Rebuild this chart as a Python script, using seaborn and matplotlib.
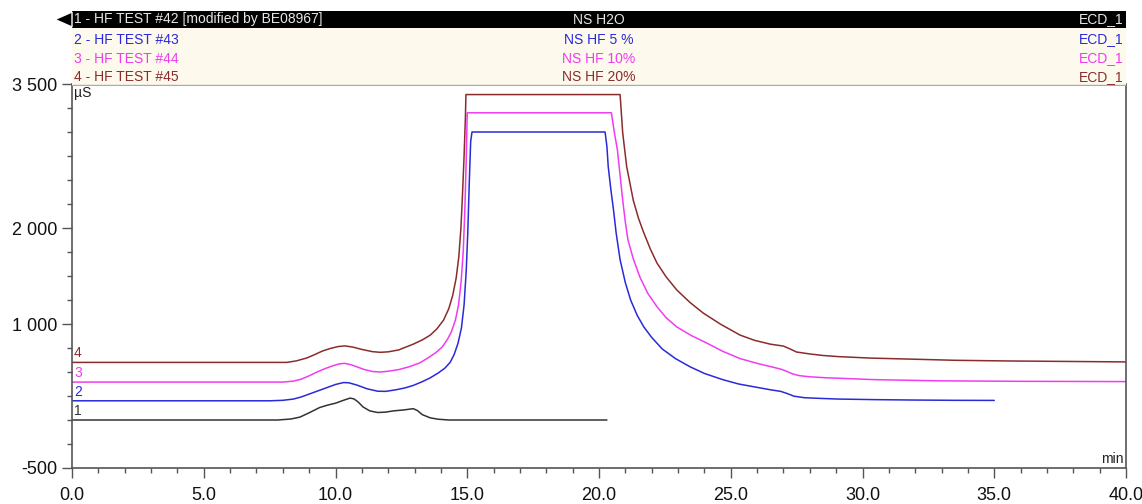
import pandas as pd
import seaborn as sns
import matplotlib.pyplot as plt
from matplotlib.patches import Rectangle, Polygon
from matplotlib.ticker import MultipleLocator, FixedLocator

# conductivity traces (min, µS)
t1 = [0, 7.8, 8.3, 8.65, 9.0, 9.4, 9.7, 10.0, 10.3, 10.55, 10.7, 10.85, 11.05, 11.3, 11.6,
      11.9, 12.2, 12.6, 12.95, 13.1, 13.3, 13.6, 13.9, 14.3, 20.3]
v1 = [0, 0, 10, 30, 75, 130, 155, 175, 205, 228, 220, 190, 135, 95, 78,
      82, 95, 105, 118, 100, 55, 22, 8, 0, 0]

t2 = [0, 7.5, 8.0, 8.4, 8.7, 9.0, 9.35, 9.7, 10.0, 10.3, 10.5, 10.8, 11.2, 11.6, 11.9,
      12.3, 12.65, 12.95, 13.3, 13.6, 13.9, 14.15, 14.35, 14.5, 14.65, 14.78, 14.88, 14.96,
      15.02, 15.08, 15.13, 15.18, 20.23, 20.3, 20.35, 20.45, 20.55, 20.65, 20.8, 21.0, 21.2,
      21.45, 21.7, 22.0, 22.4, 22.9, 23.45, 24.0, 24.7, 25.3, 26.0, 26.5, 26.9, 27.15, 27.4,
      27.8, 28.4, 29.1, 30.5, 31.9, 33.5, 35.0]
v2 = [200, 200, 205, 218, 240, 270, 305, 340, 370, 390, 388, 365, 325, 300, 298,
      315, 335, 360, 400, 440, 490, 540, 600, 680, 800, 960, 1200, 1550,
      1950, 2500, 2900, 3000, 3000, 2850, 2640, 2400, 2190, 1950, 1670, 1430, 1250,
      1090, 970, 860, 740, 640, 555, 485, 420, 375, 340, 315, 298, 275, 248,
      232, 225, 218, 212, 208, 205, 204]

t3 = [0, 8.0, 8.4, 8.7, 9.0, 9.3, 9.6, 9.9, 10.15, 10.35, 10.6, 10.8, 11.1, 11.4, 11.7,
      12.0, 12.4, 12.8, 13.2, 13.5, 13.8, 14.05, 14.25, 14.4, 14.55, 14.67, 14.77, 14.85,
      14.91, 14.96, 15.0, 20.47, 20.58, 20.7, 20.8, 20.9, 21.0, 21.1, 21.3, 21.55, 21.85,
      22.2, 22.55, 22.95, 23.5, 24.1, 24.7, 25.35, 26.0, 26.6, 26.9, 27.1, 27.35, 27.6,
      28.0, 28.6, 29.1, 30.5, 32.9, 36.0, 40.0]
v3 = [395, 395, 405, 425, 460, 500, 535, 565, 585, 590, 575, 555, 525, 505, 500,
      508, 525, 555, 595, 645, 700, 760, 840, 920, 1040, 1200, 1450, 1770,
      2200, 2700, 3200, 3200, 3000, 2810, 2550, 2290, 2060, 1875, 1680, 1490, 1320,
      1180, 1065, 970, 880, 800, 715, 640, 590, 550, 530, 510, 480, 462,
      450, 440, 435, 420, 408, 403, 400]

t4 = [0, 8.15, 8.5, 8.9, 9.2, 9.5, 9.8, 10.1, 10.35, 10.65, 11.0, 11.4, 11.7, 12.0, 12.4,
      12.95, 13.3, 13.6, 13.85, 14.1, 14.3, 14.45, 14.58, 14.68, 14.76, 14.82, 14.88, 14.93,
      14.95, 20.8, 20.9, 21.05, 21.3, 21.5, 21.7, 21.95, 22.2, 22.55, 22.95, 23.45, 23.95,
      24.6, 25.35, 25.9, 26.5, 26.8, 27.0, 27.25, 27.5, 28.0, 28.5, 29.1, 30.3, 31.7,
      33.5, 35.5, 40.0]
v4 = [600, 600, 615, 645, 680, 718, 745, 765, 772, 760, 735, 712, 705, 710, 730,
      790, 835, 885, 950, 1040, 1160, 1300, 1480, 1700, 2000, 2350, 2750, 3150,
      3390, 3390, 2990, 2640, 2290, 2100, 1950, 1780, 1635, 1490, 1355, 1225, 1115,
      1000, 885, 830, 790, 778, 770, 740, 708, 688, 672, 660, 645, 635,
      622, 615, 605]

trace_ids = ['1', '2', '3', '4']
baselines = [0, 200, 395, 600]
colors = ['#333333', '#2a2ad8', '#f03cf0', '#8b2c2c']
header_left = ['1 - HF TEST #42 [modified by BE08967]', '2 - HF TEST #43',
               '3 - HF TEST #44', '4 - HF TEST #45']
header_mid = ['NS H2O', 'NS HF 5 %', 'NS HF 10%', 'NS HF 20%']
header_right = ['ECD_1', 'ECD_1', 'ECD_1', 'ECD_1']

y_ticks = [-500, 1000, 2000, 3500]
y_labels = ['-500', '1 000', '2 000', '3 500']
x_ticks = [0, 5, 10, 15, 20, 25, 30, 35, 40]
x_labels = ['0.0', '5.0', '10.0', '15.0', '20.0', '25.0', '30.0', '35.0', '40.0']

frames = []
for tid, t, v in zip(trace_ids, [t1, t2, t3, t4], [v1, v2, v3, v4]):
    frames.append(pd.DataFrame({'time': t, 'uS': v, 'trace': tid}))
df = pd.concat(frames, ignore_index=True)

sns.set_style('ticks')
plt.rcParams['font.family'] = ['Liberation Sans', 'DejaVu Sans']

W, H = 1142, 504
fig = plt.figure(figsize=(W / 100, H / 100), dpi=100)
ax = fig.add_axes([72 / W, 1 - 468 / H, (1126 - 72) / W, (468 - 84) / H])

sns.lineplot(data=df, x='time', y='uS', hue='trace', palette=dict(zip(trace_ids, colors)),
             estimator=None, sort=False, legend=False, linewidth=1.1, ax=ax)

ax.set_xlim(0, 40)
ax.set_ylim(-500, 3500)
ax.set_xlabel('')
ax.set_ylabel('')
ax.xaxis.set_major_locator(FixedLocator(x_ticks))
ax.set_xticklabels(x_labels)
ax.xaxis.set_minor_locator(MultipleLocator(1))
ax.yaxis.set_major_locator(FixedLocator(y_ticks))
ax.set_yticklabels(y_labels)
ax.yaxis.set_minor_locator(MultipleLocator(250))
ax.tick_params(which='major', length=7, width=1, color='#555555', labelsize=13,
               labelcolor='#111111')
ax.tick_params(axis='x', which='major', pad=7)
ax.tick_params(which='minor', length=3.5, width=1, color='#555555')
ax.spines['top'].set_visible(False)
for s in ['left', 'bottom', 'right']:
    ax.spines[s].set_color('#555555')
    ax.spines[s].set_linewidth(1.2)
ax.patch.set_facecolor('white')

for tid, base, c in zip(trace_ids, baselines, colors):
    ax.text(0.08, base + 20, tid, color=c, fontsize=10, ha='left', va='bottom')

ax.text(0.08, 3480, 'µS', fontsize=10, color='#222222', ha='left', va='top')
ax.text(39.9, -480, 'min', fontsize=10, color='#222222', ha='right', va='bottom')

# header band with the sample table
hx = fig.add_axes([55 / W, 1 - 86 / H, (1126 - 55) / W, (86 - 11) / H])
hx.set_xlim(55, 1126)
hx.set_ylim(86, 11)
hx.axis('off')
hx.add_patch(Rectangle((72, 28), 1054, 57, facecolor='#fdf9ec', edgecolor='none'))
hx.add_patch(Rectangle((72, 11), 1054, 17, facecolor='black', edgecolor='none'))
hx.add_patch(Polygon([(55, 19.5), (72, 12), (72, 27)], closed=True, facecolor='black'))
hx.plot([72, 1126], [85, 85], color='#aaaaaa', lw=1)

row_y = [19.5, 39.5, 58.5, 77]
text_colors = ['#e6e6e6'] + colors[1:]
for y, l, m, r, c in zip(row_y, header_left, header_mid, header_right, text_colors):
    hx.text(74, y, l, color=c, fontsize=10, ha='left', va='center')
    hx.text(599, y, m, color=c, fontsize=10, ha='center', va='center')
    hx.text(1124, y, r, color=c, fontsize=10, ha='right', va='center')

fig.savefig('out.png', dpi=100)
